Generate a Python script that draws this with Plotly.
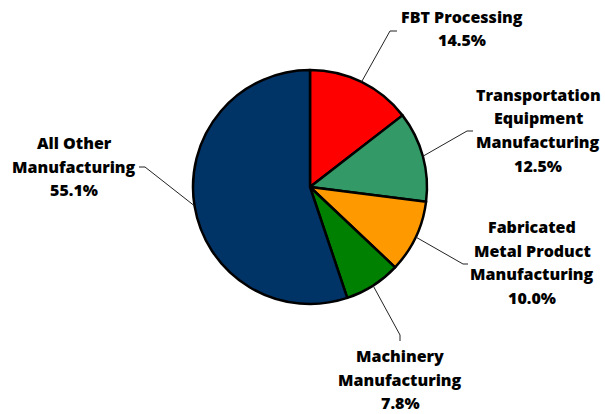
import math
import plotly.graph_objects as go

# --- data ---
sectors = ["FBT Processing", "Transportation Equipment Manufacturing",
           "Fabricated Metal Product Manufacturing", "Machinery Manufacturing",
           "All Other Manufacturing"]
shares = [14.5, 12.5, 10.0, 7.8, 55.1]
label_lines = [["FBT Processing"],
               ["Transportation", "Equipment", "Manufacturing"],
               ["Fabricated", "Metal Product", "Manufacturing"],
               ["Machinery", "Manufacturing"],
               ["All Other", "Manufacturing"]]
colors = ["#FF0000", "#339966", "#FF9900", "#008000", "#003366"]

W, H = 605, 414
cx, cy, r = 310, 187, 117

# label layout (pixel coords): text centre x, first line y, elbow, line end
label_pos = [(462, 17), (538, 95), (532, 227), (400, 356), (74, 143)]
elbows = [((390, 31), (397, 31)), ((467, 131), (473, 131)),
          ((463, 264), (468, 264)), ((400, 335), (400, 341)),
          ((145, 167), (139, 167))]
line_gap = 23.5


def px(x):
    return x / W


def py(y):
    return 1 - y / H


fig = go.Figure(go.Pie(
    labels=sectors, values=shares, sort=False, direction="clockwise",
    rotation=0, textinfo="none", showlegend=False,
    marker=dict(colors=colors, line=dict(color="black", width=2.5)),
    domain=dict(x=[px(cx - r), px(cx + r)], y=[py(cy + r), py(cy - r)]),
))

annotations = []
shapes = []
total = sum(shares)
cum = 0
for i, v in enumerate(shares):
    mid = (cum + v / 2) / total * 2 * math.pi
    cum += v
    ex = cx + r * math.sin(mid)
    ey = cy - r * math.cos(mid)
    (bx, by), (tx, ty) = elbows[i]
    shapes.append(dict(type="path", xref="paper", yref="paper",
                       path=f"M {px(ex)} {py(ey)} L {px(bx)} {py(by)} L {px(tx)} {py(ty)}",
                       line=dict(color="#222222", width=1)))
    lx, ly = label_pos[i]
    lines = label_lines[i] + [f"{v:.1f}%"]
    for j, t in enumerate(lines):
        annotations.append(dict(x=px(lx), y=py(ly + j * line_gap), xref="paper", yref="paper",
                                text=t, showarrow=False,
                                xanchor="center", yanchor="middle",
                                font=dict(size=16, color="black", family="Open Sans", weight=800)))

fig.update_layout(width=W, height=H, margin=dict(l=0, r=0, t=0, b=0),
                  paper_bgcolor="white", plot_bgcolor="white",
                  annotations=annotations, shapes=shapes)

# drop the default page margin so the figure sits at the window corner
fig.write_html("out.html", config={"displayModeBar": False},
               post_script="document.body.style.margin='0';")
